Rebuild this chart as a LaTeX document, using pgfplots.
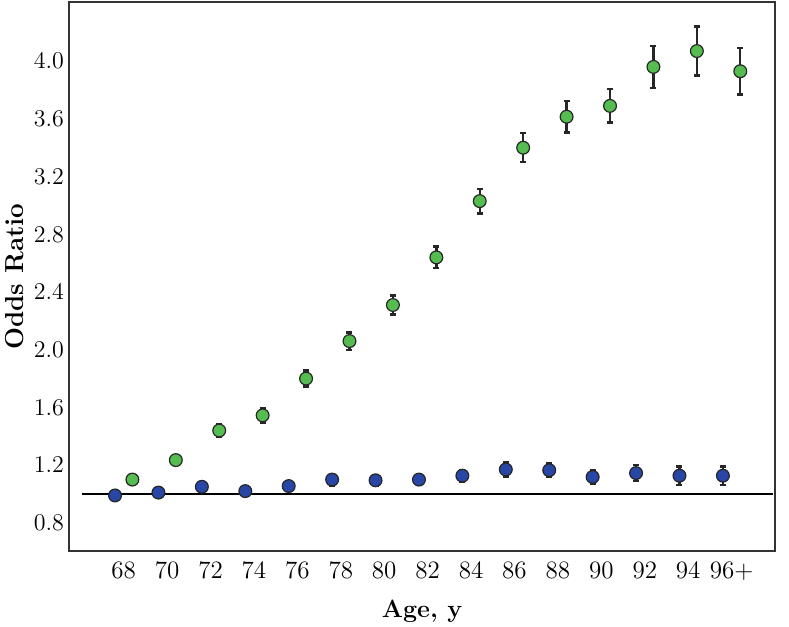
\documentclass[border=0pt]{standalone}
\usepackage{pgfplots}
\pgfplotsset{compat=1.18}
\definecolor{ptblue}{RGB}{40,70,165}
\definecolor{ptgreen}{RGB}{85,188,80}

% x = category index -0.2 (blue) / +0.2 (green), y = odds ratio, e = half CI
\pgfplotstableread{
x y e
-0.2 0.99 0.03
0.8 1.01 0.03
1.8 1.05 0.035
2.8 1.02 0.03
3.8 1.055 0.035
4.8 1.10 0.04
5.8 1.095 0.035
6.8 1.10 0.035
7.8 1.127 0.04
8.8 1.17 0.05
9.8 1.165 0.048
10.8 1.118 0.048
11.8 1.145 0.055
12.8 1.127 0.065
13.8 1.127 0.065
}\blueorr
\pgfplotstableread{
x y e
0.2 1.10 0.02
1.2 1.235 0.025
2.2 1.44 0.045
3.2 1.545 0.05
4.2 1.80 0.055
5.2 2.06 0.06
6.2 2.31 0.065
7.2 2.64 0.075
8.2 3.03 0.085
9.2 3.40 0.10
10.2 3.615 0.11
11.2 3.69 0.115
12.2 3.96 0.145
13.2 4.07 0.17
14.2 3.93 0.16
}\greenorr

\begin{document}
\begin{tikzpicture}
\begin{axis}[
    scale only axis,
    width=353pt, height=274.5pt,
    xmin=-1.26, xmax=15.0,
    ymin=0.605, ymax=4.41,
    xtick={0,...,14},
    xticklabels={68,70,72,74,76,78,80,82,84,86,88,90,92,94,96+},
    ytick={0.8,1.2,1.6,2.0,2.4,2.8,3.2,3.6,4.0},
    yticklabel style={xshift=1pt, /pgf/number format/.cd,fixed,fixed zerofill,precision=1},
    ticklabel style={font=\fontsize{12.5}{14}\selectfont},
    major tick length=0pt,
    xticklabel style={yshift=-2pt},
    axis line style={line width=1pt, black!80},
    xlabel={\textbf{Age, y}},
    ylabel={\textbf{Odds Ratio}},
    xlabel style={font=\fontsize{12.5}{14}\selectfont, yshift=-3pt},
    ylabel style={font=\fontsize{13}{15}\selectfont, yshift=-2pt},
    clip=false,
  ]
  \addplot[black, line width=0.8pt] coordinates {(-0.95,1) (14.95,1)};
  \addplot[only marks, mark=*, mark size=3.2pt,
    mark options={fill=ptblue, draw=black!85, line width=0.6pt},
    error bars/.cd, y dir=both, y explicit,
    error bar style={line width=1.2pt, black!85},
    error mark options={rotate=90, mark size=1.5pt, line width=1.2pt, black!85}]
    table[x=x, y=y, y error=e] {\blueorr};
  \addplot[only marks, mark=*, mark size=3.2pt,
    mark options={fill=ptgreen, draw=black!85, line width=0.6pt},
    error bars/.cd, y dir=both, y explicit,
    error bar style={line width=1.2pt, black!85},
    error mark options={rotate=90, mark size=1.5pt, line width=1.2pt, black!85}]
    table[x=x, y=y, y error=e] {\greenorr};
\end{axis}
\pgfresetboundingbox
\path ([shift={(-34.5pt,-37.5pt)}]current axis.south west)
  rectangle ([shift={(7pt,1pt)}]current axis.north east);
\end{tikzpicture}
\end{document}
